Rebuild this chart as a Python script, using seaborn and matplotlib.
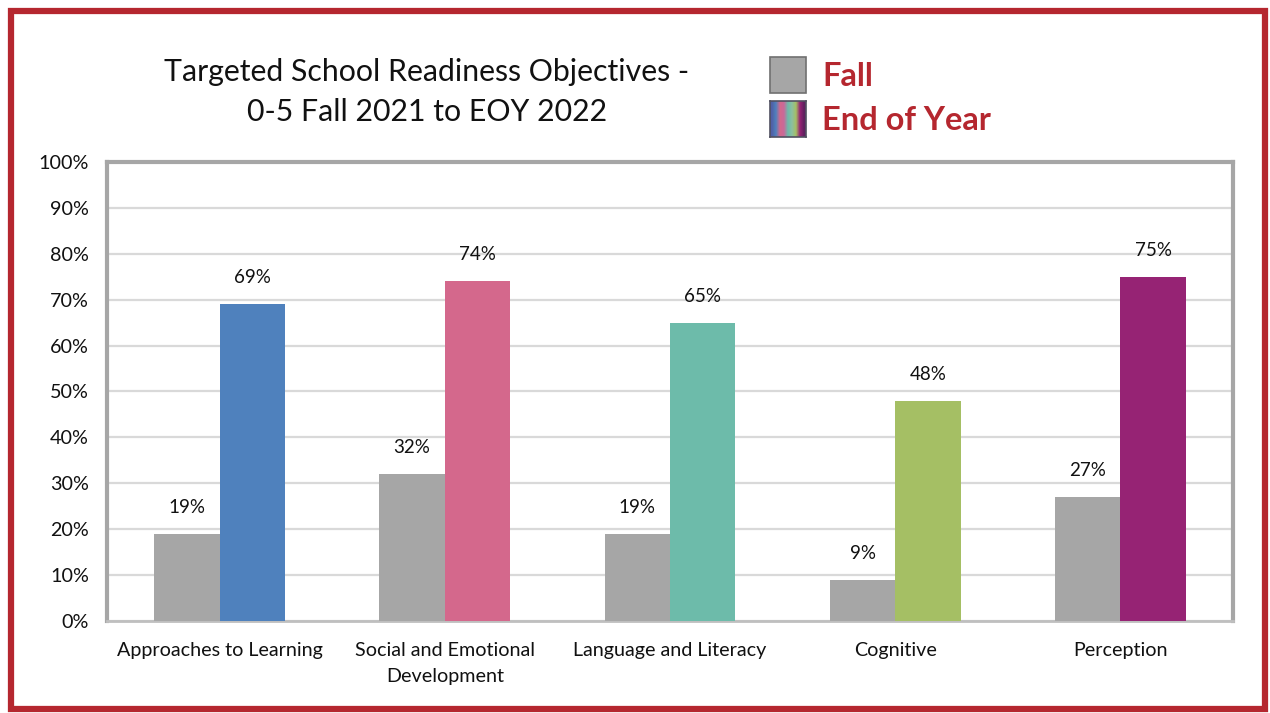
import matplotlib
matplotlib.use("Agg")
import matplotlib.pyplot as plt
import seaborn as sns
import pandas as pd
import numpy as np
from matplotlib.patches import Rectangle
from matplotlib.ticker import PercentFormatter, MultipleLocator

categories = ["Approaches to Learning", "Social and Emotional\nDevelopment",
              "Language and Literacy", "Cognitive", "Perception"]
fall = [0.19, 0.32, 0.19, 0.09, 0.27]
eoy = [0.69, 0.74, 0.65, 0.48, 0.75]
series = ["Fall", "End of Year"]
fall_color = "#A6A6A6"
eoy_colors = ["#4F81BD", "#D4688C", "#6DBBAA", "#A5BF64", "#962374"]
title = "Targeted School Readiness Objectives -\n0-5 Fall 2021 to EOY 2022"

sns.set_theme(style="white")
plt.rcParams['font.family'] = ['Lato', 'DejaVu Sans']

df = pd.DataFrame({
    "Category": categories * 2,
    "Season": [series[0]] * len(categories) + [series[1]] * len(categories),
    "Value": fall + eoy,
})

fig = plt.figure(figsize=(12.7, 7.13), dpi=100)
ax = fig.add_axes([107/1270, 1-621/713, (1233-107)/1270, (621-162)/713])

sns.barplot(data=df, x="Category", y="Value", hue="Season", order=categories,
            hue_order=series, palette=[fall_color, eoy_colors[0]], width=0.58,
            dodge=True, legend=False, ax=ax, saturation=1, linewidth=0, zorder=3)

# recolor EOY bars individually
n = len(categories)
patches = ax.patches[:2*n]
for i, p in enumerate(patches[n:2*n]):
    p.set_facecolor(eoy_colors[i])
for p in patches:
    p.set_edgecolor("none")

for cont in ax.containers:
    ax.bar_label(cont, labels=[f"{v*100:.0f}%" for v in cont.datavalues],
                 padding=13, fontsize=13.5, color="#111111")

ax.set_ylim(0, 1)
ax.yaxis.set_major_locator(MultipleLocator(0.1))
ax.yaxis.set_major_formatter(PercentFormatter(1.0, decimals=0))
ax.grid(axis="y", color="#D9D9D9", linewidth=1.6, zorder=0)
ax.set_axisbelow(True)
ax.set_xlim(-0.5, n - 0.5)
ax.set_xlabel("")
ax.set_ylabel("")
ax.tick_params(axis="both", length=0, labelsize=14.2, colors="#111111")
ax.tick_params(axis="y", pad=13)
ax.tick_params(axis="x", pad=15)
for lbl in ax.get_xticklabels():
    lbl.set_linespacing(1.65)
for s in ax.spines.values():
    s.set_visible(True)
    s.set_color("#A6A6A6")
    s.set_linewidth(3)
ax.spines["bottom"].set_color("#BFBFBF")
ax.spines["bottom"].set_linewidth(2)

fig.text(427/1270, 1-92/713, title, ha="center", va="center", fontsize=21.8,
         color="#111111", linespacing=1.55)

# legend
lx, lw = 770/1270, 36/1270
lh = 36/713
fig.patches.append(Rectangle((lx, 1-93/713), lw, lh, transform=fig.transFigure,
                             facecolor=fall_color, edgecolor="#707070", linewidth=1.2))
lax = fig.add_axes([lx, 1-137/713, lw, lh])
grad = np.array([matplotlib.colors.to_rgb(c) for c in
                 ["#5060A8", "#4F81BD", "#D4688C", "#C86A9A", "#6DBBAA", "#8CC0A0", "#A5BF64", "#962374", "#602060"]])
lax.imshow(grad[np.newaxis, :, :], aspect="auto", interpolation="bilinear")
lax.set_xticks([]); lax.set_yticks([])
for s in lax.spines.values():
    s.set_color("#505060"); s.set_linewidth(1.2)
legend_red = "#B5272F"
fig.text(822/1270, 1-76/713, series[0], ha="left", va="center", fontsize=23.5,
         color=legend_red, fontweight="bold")
fig.text(822/1270, 1-120/713, series[1], ha="left", va="center", fontsize=23.5,
         color=legend_red, fontweight="bold")

# outer border
fig.patches.append(Rectangle((11/1270, 4/713), (1265-11)/1270, (709-11)/713,
                             transform=fig.transFigure, fill=False,
                             edgecolor="#B5272F", linewidth=4.5))

fig.savefig("out.png", dpi=100)
